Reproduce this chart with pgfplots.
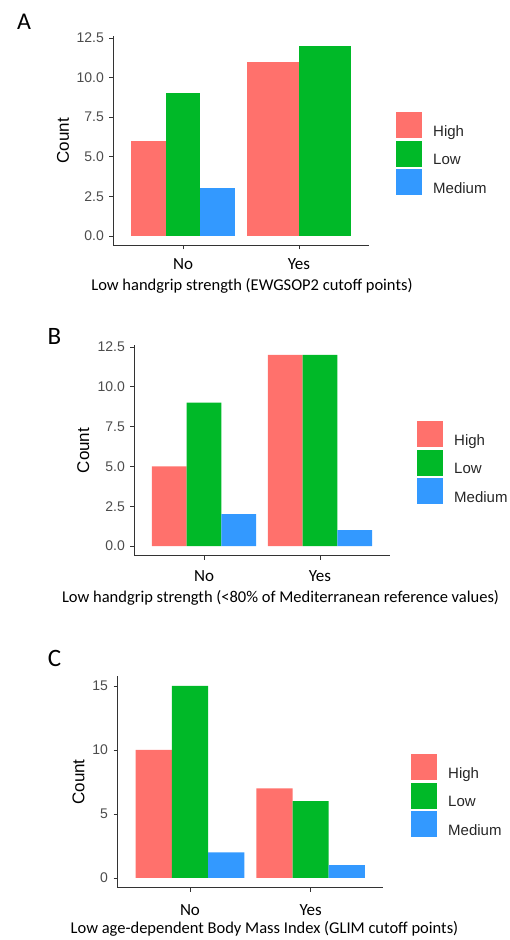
\documentclass[border=0pt]{standalone}
\usepackage{fontspec}
\setmainfont{Liberation Sans}
\newfontfamily\calib{Carlito}
\usepackage{pgfplots}
\pgfplotsset{compat=1.18}
\definecolor{cH}{HTML}{FF716C}
\definecolor{cL}{HTML}{00B928}
\definecolor{cM}{HTML}{3399FF}
\pgfplotsset{
  panel/.style={
    scale only axis, anchor=south west,
    axis x line*=bottom, axis y line*=left,
    axis line style={black!80, line width=0.8bp},
    tick style={black!80, line width=0.8bp},
    major tick length=4bp, tick align=outside,
    xmin=0.4, xmax=2.6, xtick={1,2}, xticklabels={No,Yes},
    xticklabel style={font=\calib\fontsize{17bp}{19bp}\selectfont, text=black, anchor=center},
    yticklabel style={font=\fontsize{14bp}{16bp}\selectfont, text=black!70, inner sep=0pt, xshift=-5.4bp},
    /pgf/number format/assume math mode=true,
    ylabel={Count},
    ylabel style={font=\fontsize{17bp}{19bp}\selectfont, anchor=center},
    xlabel style={font=\calib\fontsize{16.5bp}{19bp}\selectfont, anchor=center, text=black},
    legend style={draw=none, fill=none, inner sep=0pt, row sep=2.5bp, column sep=11bp,
      anchor=north west, font=\fontsize{15bp}{17bp}\selectfont,
      nodes={inner sep=0pt, text=black!85}},
    legend cell align=left,
    legend image code/.code={\fill[##1] (0bp,-6.5bp) rectangle (26bp,19.5bp);},
  },
  bH/.style={ybar, bar shift=0pt, draw=none, fill=cH},
  bL/.style={ybar, bar shift=0pt, draw=none, fill=cL},
  bM/.style={ybar, bar shift=0pt, draw=none, fill=cM},
  dec/.style={yticklabel style={/pgf/number format/.cd, fixed, fixed zerofill, precision=1}},
}
\begin{document}
\begin{tikzpicture}
\useasboundingbox (0,0) rectangle (510bp,940bp);
% ---------------- Panel A
\node[font=\calib\fontsize{24bp}{26bp}\selectfont] at (24bp,918bp) {A};
\begin{axis}[panel, dec, at={(113.4bp,694.5bp)}, width=255.2bp, height=209.1bp,
  ymin=-0.6, ymax=12.6, ytick={0,2.5,5,7.5,10,12.5},
  xticklabel style={yshift=-14.5bp},
  xlabel={Low handgrip strength (EWGSOP2 cutoff points)},
  xlabel style={at={(axis description cs:0.543,-0.194)}},
  ylabel style={at={(axis description cs:-0.1975,0.5)}},
  legend style={at={(axis description cs:1.1074,0.6384)}}]
\addplot[bH, bar width=0.3] coordinates {(0.7,6)};
\addplot[bL, bar width=0.3] coordinates {(1.0,9)};
\addplot[bM, bar width=0.3] coordinates {(1.3,3)};
\addplot[bH, bar width=0.45, forget plot] coordinates {(1.775,11)};
\addplot[bL, bar width=0.45, forget plot] coordinates {(2.225,12)};
\legend{High,Low,Medium}
\end{axis}
% ---------------- Panel B
\node[font=\calib\fontsize{25bp}{27bp}\selectfont] at (54.5bp,604bp) {B};
\begin{axis}[panel, dec, at={(134.4bp,384.4bp)}, width=255.2bp, height=210.2bp,
  ymin=-0.6, ymax=12.6, ytick={0,2.5,5,7.5,10,12.5},
  xticklabel style={yshift=-16.4bp},
  xlabel={Low handgrip strength (<80\% of Mediterranean reference values)},
  xlabel style={at={(axis description cs:0.5725,-0.2017)}},
  ylabel style={at={(axis description cs:-0.2,0.5)}},
  legend style={at={(axis description cs:1.1074,0.6403)}}]
\addplot[bH, bar width=0.3] coordinates {(0.7,5) (1.7,12)};
\addplot[bL, bar width=0.3] coordinates {(1.0,9) (2.0,12)};
\addplot[bM, bar width=0.3] coordinates {(1.3,2) (2.3,1)};
\legend{High,Low,Medium}
\end{axis}
% ---------------- Panel C
\node[font=\calib\fontsize{25bp}{27bp}\selectfont] at (54.5bp,282bp) {C};
\begin{axis}[panel, at={(117.6bp,52.4bp)}, width=265.4bp, height=211.2bp,
  ymin=-0.75, ymax=15.75, ytick={0,5,10,15},
  xticklabel style={yshift=-18.4bp},
  xlabel={Low age-dependent Body Mass Index (GLIM cutoff points)},
  xlabel style={at={(axis description cs:0.5535,-0.196)}},
  ylabel style={at={(axis description cs:-0.147,0.5)}},
  legend style={at={(axis description cs:1.1055,0.6326)}}]
\addplot[bH, bar width=0.3] coordinates {(0.7,10) (1.7,7)};
\addplot[bL, bar width=0.3] coordinates {(1.0,15) (2.0,6)};
\addplot[bM, bar width=0.3] coordinates {(1.3,2) (2.3,1)};
\legend{High,Low,Medium}
\end{axis}
\end{tikzpicture}
\end{document}
